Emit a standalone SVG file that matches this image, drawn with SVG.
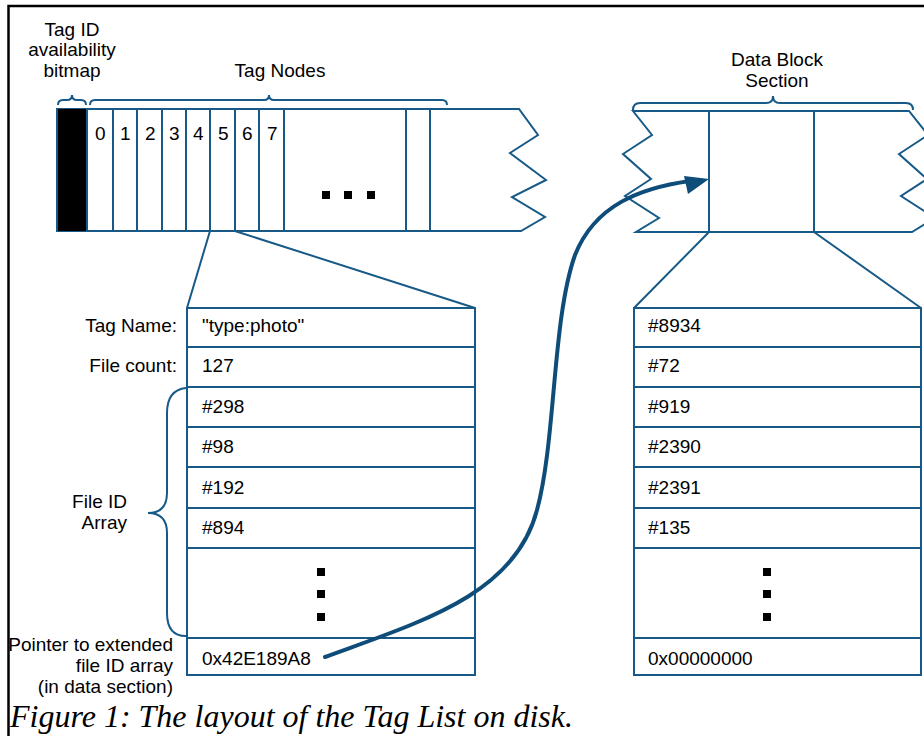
<svg xmlns="http://www.w3.org/2000/svg" width="924" height="736" viewBox="0 0 924 736">
  <style>
    .ln { fill: none; stroke: #175a87; stroke-width: 2; stroke-linejoin: miter; }
    .brace { fill: none; stroke: #175a87; stroke-width: 2; }
    .cell { fill: #ffffff; stroke: #175a87; stroke-width: 2; }
    .t { font-family: "Liberation Sans", Arial, sans-serif; font-size: 19px; fill: #000000; }
    .end { text-anchor: end; }
    .mid { text-anchor: middle; }
    .dot { fill: #000000; }
    .cap { font-family: "Liberation Serif", "Times New Roman", serif; font-style: italic; font-size: 32px; fill: #000000; }
  </style>
  <rect width="924" height="736" fill="#ffffff"/>

  <!-- outer frame -->
  <path d="M8.5,740 L8.5,6 L930,6" fill="none" stroke="#000000" stroke-width="2.5"/>

  <!-- tag list strip -->
  <g id="tag-strip">
    <path class="ln" d="M57,109 L519,109 L538,135 L510,153 L546,180 L512,197 L545,217 L521,231 L57,231 Z" fill="#ffffff"/>
    <rect x="57" y="109" width="30" height="122" fill="#000000"/>
    <path class="ln" d="M57,109 L57,231"/>
    <path class="ln" d="M87,109 V231 M113,109 V231 M137,109 V231 M162,109 V231 M186,109 V231 M210,109 V231 M235,109 V231 M259,109 V231 M284,109 V231 M406,109 V231 M430,109 V231"/>
    <text class="t" x="95" y="140">0</text>
    <text class="t" x="120" y="140">1</text>
    <text class="t" x="145" y="140">2</text>
    <text class="t" x="169" y="140">3</text>
    <text class="t" x="193" y="140">4</text>
    <text class="t" x="218" y="140">5</text>
    <text class="t" x="242" y="140">6</text>
    <text class="t" x="267" y="140">7</text>
    <rect class="dot" x="322" y="191" width="8" height="8"/>
    <rect class="dot" x="344" y="191" width="8" height="8"/>
    <rect class="dot" x="367" y="191" width="8" height="8"/>
  </g>

  <!-- strip labels and braces -->
  <g id="bitmap-label">
    <text class="t mid" x="72" y="36">Tag ID</text>
    <text class="t mid" x="72" y="56">availability</text>
    <text class="t mid" x="72" y="77">bitmap</text>
    <path class="brace" d="M58,105 Q58,100 63,100 L67,100 Q72,100 72,95 Q72,100 77,100 L81,100 Q86,100 86,105"/>
  </g>
  <g id="tag-nodes-label">
    <text class="t mid" x="280" y="77">Tag Nodes</text>
    <path class="brace" d="M90,105 Q90,100 95,100 L264,100 Q269,100 269,95 Q269,100 274,100 L442,100 Q447,100 447,105"/>
  </g>

  <!-- data block strip -->
  <g id="data-strip">
    <path class="ln" d="M633,111 L652,135 L623,154 L651,179 L625,196 L659,218 L636,232 L912,232 L935,218 L901,196 L927,179 L899,154 L928,135 L909,111 Z" fill="#ffffff"/>
    <path class="ln" d="M709,111 V232 M814,111 V232"/>
  </g>
  <g id="data-label">
    <text class="t mid" x="777" y="66">Data Block</text>
    <text class="t mid" x="777" y="87">Section</text>
    <path class="brace" d="M633,110 Q633,103 640,103 L766,103 Q773,103 773,96 Q773,103 780,103 L906,103 Q913,103 913,110"/>
  </g>

  <!-- expanded tag node -->
  <g id="tag-node-table">
    <rect class="cell" x="187" y="308" width="288" height="367"/>
    <path class="ln" d="M187,347 H475 M187,387 H475 M187,427 H475 M187,467 H475 M187,508 H475 M187,548 H475 M187,638 H475"/>
    <text class="t" x="202" y="332">"type:photo"</text>
    <text class="t" x="202" y="372">127</text>
    <text class="t" x="202" y="413">#298</text>
    <text class="t" x="202" y="453">#98</text>
    <text class="t" x="202" y="494">#192</text>
    <text class="t" x="202" y="534">#894</text>
    <rect class="dot" x="317" y="568" width="8" height="8"/>
    <rect class="dot" x="317" y="590" width="8" height="8"/>
    <rect class="dot" x="317" y="613" width="8" height="8"/>
    <text class="t" x="202" y="665">0x42E189A8</text>
  </g>

  <!-- field labels of the tag node -->
  <g id="field-labels">
    <text class="t end" x="177" y="332">Tag Name:</text>
    <text class="t end" x="177" y="372">File count:</text>
    <text class="t end" x="127" y="508">File ID</text>
    <text class="t end" x="127" y="529">Array</text>
    <path class="brace" d="M186,388 Q167,390 167,413 L167,493 Q167,513 148,513 Q167,513 167,533 L167,613 Q167,636 186,636"/>
    <text class="t end" x="173" y="651">Pointer to extended</text>
    <text class="t end" x="173" y="672">file ID array</text>
    <text class="t end" x="173" y="693">(in data section)</text>
  </g>

  <!-- expanded data block -->
  <g id="data-block-table">
    <rect class="cell" x="634" y="308" width="287" height="367"/>
    <path class="ln" d="M634,347 H921 M634,387 H921 M634,427 H921 M634,467 H921 M634,508 H921 M634,548 H921 M634,638 H921"/>
    <text class="t" x="648" y="332">#8934</text>
    <text class="t" x="648" y="372">#72</text>
    <text class="t" x="648" y="413">#919</text>
    <text class="t" x="648" y="453">#2390</text>
    <text class="t" x="648" y="494">#2391</text>
    <text class="t" x="648" y="534">#135</text>
    <rect class="dot" x="763" y="568" width="8" height="8"/>
    <rect class="dot" x="763" y="590" width="8" height="8"/>
    <rect class="dot" x="763" y="613" width="8" height="8"/>
    <text class="t" x="648" y="665">0x00000000</text>
  </g>

  <!-- zoom lines from strips to tables, and the pointer arrow drawn on top -->
  <g id="connectors">
    <path class="ln" d="M210,231 L187,308 M235,231 L475,308"/>
    <path class="ln" d="M709,232 L634,308 M814,232 L921,308"/>
    <path d="M325,657 C420,622 515,595 537,510 C556,440 552,320 575,255 C595,205 640,188 690,181" fill="none" stroke="#0e4c79" stroke-width="4" stroke-linecap="round"/>
    <polygon points="709,179 684,176 688,194" fill="#0e4c79"/>
  </g>

  <text class="cap" x="10" y="727">Figure 1: The layout of the Tag List on disk.</text>
</svg>
